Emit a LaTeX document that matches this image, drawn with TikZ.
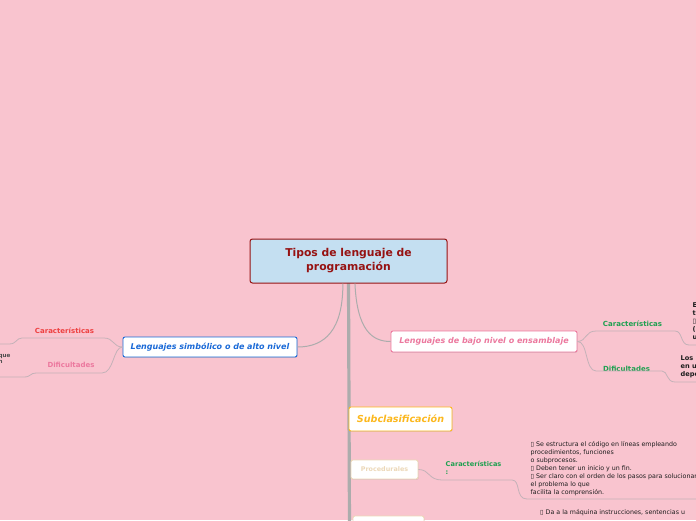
\documentclass[tikz,border=0pt]{standalone}
\usepackage{fontspec}
\setmainfont{DejaVu Sans}
\usetikzlibrary{shadows}
\definecolor{fondo}{RGB}{249,196,207}
\definecolor{rojo}{RGB}{150,18,18}
\definecolor{celeste}{RGB}{196,223,241}
\definecolor{azul}{RGB}{25,105,215}
\definecolor{rosa}{RGB}{236,120,158}
\definecolor{dorado}{RGB}{252,184,30}
\definecolor{crema}{RGB}{236,216,184}
\definecolor{verde}{RGB}{30,160,80}
\definecolor{rojoclaro}{RGB}{238,64,64}
\definecolor{tronco}{RGB}{172,172,172}
\definecolor{rama}{RGB}{196,178,184}
\definecolor{texto}{RGB}{30,30,30}
\begin{document}
\begin{tikzpicture}[x=1pt,y=-1pt,
    caja/.style={draw, fill=white, rounded corners=2pt, line width=0.9pt, inner sep=0pt,
      drop shadow={opacity=0.2, shadow xshift=0.6pt, shadow yshift=-0.9pt}},
    rotulo/.style={inner sep=0pt, font=\fontsize{7}{8}\selectfont\bfseries},
    nota/.style={inner sep=0pt, align=left, anchor=north west, text=texto},
    curva/.style={draw=tronco, line width=1pt},
    ramita/.style={draw=rama, line width=0.8pt}]
  \fill[fondo] (0,0) rectangle (696,520);
  \useasboundingbox (0,0) rectangle (696,520);

  % tronco central
  \coordinate (pie) at (349.5,530);
  \draw[tronco, line width=3.2pt] (348.5,283) -- (pie);

  \node[draw=rojo, fill=celeste, rounded corners=2.5pt, line width=1pt,
    minimum width=197pt, minimum height=44pt, align=center, text=rojo,
    font=\fontsize{10.8}{14}\selectfont\bfseries] (tipos) at (348.5,261)
    {Tipos de lenguaje de\\programación};

  \node[caja, draw=azul, minimum width=174pt, minimum height=20pt, text=azul,
    font=\fontsize{8}{9}\selectfont\bfseries\itshape] (alto) at (210,347)
    {Lenguajes simbólico o de alto nivel};
  \node[caja, draw=rosa, minimum width=186pt, minimum height=21pt, text=rosa,
    font=\fontsize{8}{9}\selectfont\bfseries\itshape] (bajo) at (484,341.5)
    {Lenguajes de bajo nivel o ensamblaje};
  \node[caja, draw=dorado, minimum width=103pt, minimum height=24pt, text=dorado,
    font=\fontsize{9.6}{11}\selectfont\bfseries\itshape] (subclas) at (400.5,419)
    {Subclasificación};
  \node[caja, draw=crema, minimum width=67pt, minimum height=19pt, text=crema,
    font=\fontsize{6.4}{8}\selectfont\bfseries] (proced) at (384.5,469.5)
    {Procedurales};
  \node[caja, draw=crema, minimum width=71pt, minimum height=20pt] (otro) at (388.5,526) {};

  \draw[curva] (tipos.-104) .. controls (343,330) and (325,347) .. (alto.east);
  \draw[curva] (tipos.-74) .. controls (357,330) and (372,341.5) .. (bajo.west);

  % ramas izquierda
  \node[rotulo, text=rojoclaro] (carizq) at (64.5,331) {Características};
  \node[rotulo, text=rosa] (difizq) at (71,364.5) {Dificultades};
  \coordinate (finA) at (0,344);
  \coordinate (finB) at (0,377);
  \draw[ramita] (alto.west) .. controls (113,347) and (114,338) .. (104,338)
    -- (22,338) .. controls (16,338) and (17,344) .. (9,344) -- (finA);
  \draw[ramita] (alto.west) .. controls (113,347) and (114,373) .. (102,373)
    -- (36,373) .. controls (30,373) and (31,377) .. (24,377) -- (finB);
  \node[nota, anchor=north east, text=texto!80, font=\fontsize{5.6}{5.6}\selectfont\bfseries]
    (cortado) at (10.5,354.5) {que\\n};

  % ramas derecha
  \node[rotulo, text=verde] (carder) at (632.5,323.5) {Características};
  \node[rotulo, text=verde] (difder) at (626.5,368.5) {Dificultades};
  \coordinate (finC) at (700,345);
  \coordinate (finD) at (700,382);
  \draw[ramita] (bajo.east) .. controls (587,341) and (585,331) .. (596,331)
    -- (675,331) .. controls (683,331) and (680,345) .. (689,345) -- (finC);
  \draw[ramita] (bajo.east) .. controls (588,341) and (585,371) .. (596,371)
    -- (662,371) .. controls (668,371) and (666,382) .. (675,382) -- (finD);
  \node[nota, font=\fontsize{6.6}{8.1}\selectfont\bfseries] (textoC) at (692.5,302.5)
    {E\\t\\\mdseries ▯\\(\\u};
  \node[nota, font=\fontsize{6.6}{8.1}\selectfont\bfseries] (textoD) at (680.5,355.5)
    {Los p\\en u\\depe};

  % procedurales
  \node[nota, text=verde, font=\fontsize{6.6}{8}\selectfont\bfseries] (carproc) at (445.5,461.5)
    {Características\\:};
  \coordinate (finE) at (700,499);
  \draw[ramita] (proced.east) .. controls (430,469.5) and (428,480) .. (442,480)
    -- (512,480) .. controls (521,480) and (515,499) .. (527,499) -- (finE);
  \node[nota, font=\fontsize{6.3}{8}\selectfont] (listaproc) at (530.5,441.5)
    {▯ Se estructura el código en líneas empleando\\
     procedimientos, funciones\\
     o subprocesos.\\
     ▯ Deben tener un inicio y un fin.\\
     ▯ Ser claro con el orden de los pasos para solucionar\\
     el problema lo que\\
     facilita la comprensión.};
  \node[nota, font=\fontsize{6.3}{8}\selectfont] (listaotro) at (540,509.5)
    {▯ Da a la máquina instrucciones, sentencias u};
\end{tikzpicture}
\end{document}
